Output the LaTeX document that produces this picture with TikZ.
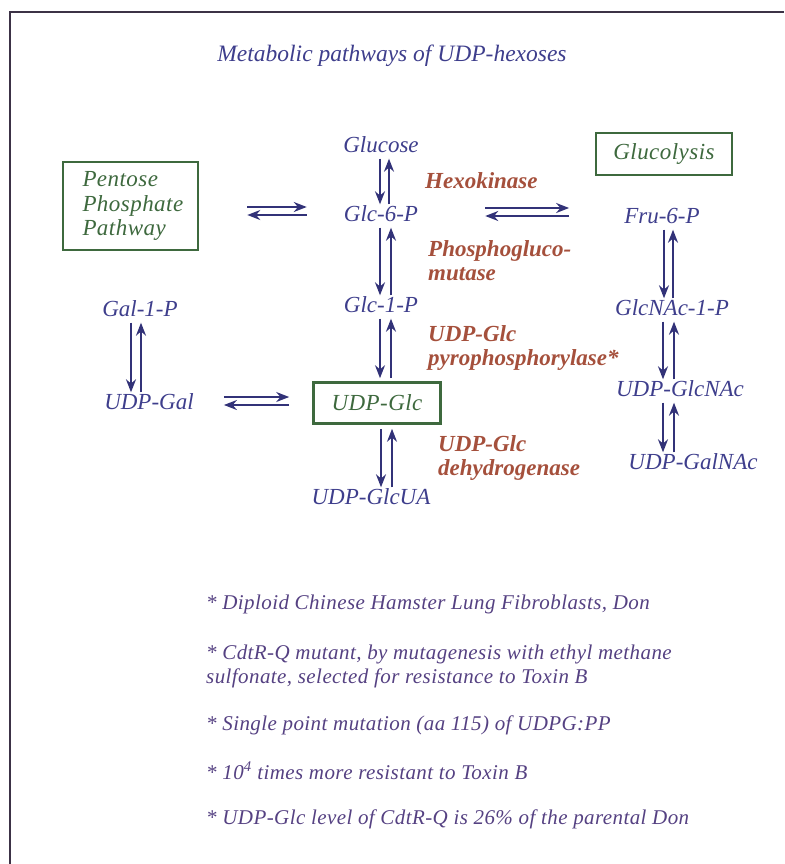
\documentclass[tikz,border=0pt]{standalone}
\usepackage{fontspec}
\setmainfont{Liberation Serif}
\newfontfamily\notefont{Liberation Serif}[LetterSpace=2]
\newfontfamily\boxfont{Liberation Serif}[LetterSpace=2]
\usetikzlibrary{arrows.meta, positioning}
\definecolor{MetColor}{RGB}{62, 62, 140}
\definecolor{ArrowColor}{RGB}{50, 50, 120}
\definecolor{EnzColor}{RGB}{165, 80, 60}
\definecolor{BoxColor}{RGB}{62, 105, 62}
\definecolor{NoteColor}{RGB}{85, 65, 130}
\definecolor{FrameColor}{RGB}{60, 50, 70}
\tikzset{
    metab/.style={
        text=MetColor,
        font=\fontsize{23}{26}\selectfont\itshape,
        text height=16pt,
        text depth=5pt,
        inner sep=1pt
    },
    pathbox/.style={
        draw=BoxColor,
        line width=2.6pt,
        text=BoxColor,
        font=\fontsize{23}{24.5}\boxfont\itshape,
        align=left,
        inner sep=0pt
    },
    enzyme/.style={
        text=EnzColor,
        font=\fontsize{23}{24}\selectfont\bfseries\itshape,
        anchor=west,
        align=left,
        inner sep=0pt
    },
    note/.style={
        text=NoteColor,
        font=\fontsize{21}{24}\notefont\itshape,
        anchor=west,
        align=left,
        inner sep=0pt
    },
    rxn/.style={
        draw=ArrowColor,
        line width=2pt,
        -{Stealth[length=13pt, width=10pt]}
    }
}

\begin{document}
\begin{tikzpicture}[x=1pt, y=-1pt]

    \useasboundingbox (0,0) rectangle (784,864);

    % frame of the slide
    \draw[FrameColor, line width=2pt] (10,864) -- (10,12) -- (784,12);

    % ============================================================================
    % TITLE
    % ============================================================================

    \node[metab, font=\fontsize{23.5}{26}\selectfont\itshape] (title) at (392,56) {Metabolic pathways of UDP-hexoses};

    % ============================================================================
    % METABOLITES
    % ============================================================================

    % Pathway boxes
    \node[pathbox, minimum width=135pt, minimum height=88pt, text width=96pt] (ppp) at (130.5,206) {
        Pentose \\ Phosphate \\ Pathway
    };
    \node[pathbox, minimum width=136pt, minimum height=42pt, align=center] (glyco) at (664,154) {Glucolysis};
    \node[pathbox, minimum width=127pt, minimum height=41pt, align=center] (udpglc) at (377,403) {UDP-Glc};

    % Central column
    \node[metab] (glucose) at (381,147) {Glucose};
    \node[metab] (g6p) at (381,216) {Glc-6-P};
    \node[metab] (g1p) at (381,307) {Glc-1-P};
    \node[metab] (udpglcua) at (371,499) {UDP-GlcUA};

    % Left column
    \node[metab] (gal1p) at (140,311) {Gal-1-P};
    \node[metab] (udpgal) at (149,404) {UDP-Gal};

    % Right column
    \node[metab] (fru6p) at (662,218) {Fru-6-P};
    \node[metab] (glcnac1p) at (672,310) {GlcNAc-1-P};
    \node[metab] (udpglcnac) at (680,391) {UDP-GlcNAc};
    \node[metab] (udpgalnac) at (693,464) {UDP-GalNAc};

    % ============================================================================
    % ENZYMES
    % ============================================================================

    \node[enzyme] (hexo) at (425,181) {Hexokinase};
    \node[enzyme] (pgm) at (428,261) {Phosphogluco-\\mutase};
    \node[enzyme] (ugp) at (428,348) {UDP-Glc\\pyrophosphorylase*};
    \node[enzyme] (ugdh) at (438,458) {UDP-Glc\\dehydrogenase};

    % ============================================================================
    % REACTIONS
    % ============================================================================

    % Glucose <-> Glc-6-P
    \draw[rxn] ([xshift=-1pt]glucose.south) -- ([xshift=-1pt]glucose.south |- g6p.north);
    \draw[rxn] ([xshift=8pt]glucose.south |- g6p.north) -- ([xshift=8pt]glucose.south);

    % Glc-6-P <-> Glc-1-P
    \draw[rxn] ([xshift=-1pt]g6p.south) -- ([xshift=-1pt]g6p.south |- g1p.north);
    \draw[rxn] ([xshift=10pt]g6p.south |- g1p.north) -- ([xshift=10pt]g6p.south);

    % Glc-1-P <-> UDP-Glc
    \draw[rxn, shorten >=3pt] ([xshift=-1pt]g1p.south) -- ([xshift=-1pt]g1p.south |- udpglc.north);
    \draw[rxn, shorten <=3pt] ([xshift=10pt]g1p.south |- udpglc.north) -- ([xshift=10pt]g1p.south);

    % UDP-Glc <-> UDP-GlcUA
    \draw[rxn, shorten <=4pt] ([xshift=4pt]udpglc.south) -- ([xshift=4pt]udpglc.south |- udpglcua.north);
    \draw[rxn, shorten >=4pt] ([xshift=15pt]udpglc.south |- udpglcua.north) -- ([xshift=15pt]udpglc.south);

    % Gal-1-P <-> UDP-Gal
    \draw[rxn] ([xshift=-9pt]gal1p.south) -- ([xshift=-9pt]gal1p.south |- udpgal.north);
    \draw[rxn] ([xshift=1pt]gal1p.south |- udpgal.north) -- ([xshift=1pt]gal1p.south);

    % Fru-6-P <-> GlcNAc-1-P <-> UDP-GlcNAc <-> UDP-GalNAc
    \draw[rxn] ([xshift=2pt]fru6p.south) -- ([xshift=2pt]fru6p.south |- glcnac1p.north);
    \draw[rxn] ([xshift=11pt]fru6p.south |- glcnac1p.north) -- ([xshift=11pt]fru6p.south);
    \draw[rxn] ([xshift=-9pt]glcnac1p.south) -- ([xshift=-9pt]glcnac1p.south |- udpglcnac.north);
    \draw[rxn] ([xshift=2pt]glcnac1p.south |- udpglcnac.north) -- ([xshift=2pt]glcnac1p.south);
    \draw[rxn] ([xshift=-17pt]udpglcnac.south) -- ([xshift=-17pt]udpglcnac.south |- udpgalnac.north);
    \draw[rxn] ([xshift=-6pt]udpglcnac.south |- udpgalnac.north) -- ([xshift=-6pt]udpglcnac.south);

    % Pentose Phosphate Pathway <-> Glc-6-P
    \draw[rxn, shorten <=48pt, shorten >=36pt] ([yshift=-1pt]ppp.east) -- ([yshift=-1pt]ppp.east -| g6p.west);
    \draw[rxn, shorten <=36pt, shorten >=48pt] ([yshift=-9pt]ppp.east -| g6p.west) -- ([yshift=-9pt]ppp.east);

    % Glc-6-P <-> Fru-6-P (glycolysis)
    \draw[rxn, shorten <=66pt, shorten >=54pt] ([yshift=8pt]g6p.east) -- ([yshift=8pt]g6p.east -| fru6p.west);
    \draw[rxn, shorten <=54pt, shorten >=66pt] ([yshift=0pt]g6p.east -| fru6p.west) -- ([yshift=0pt]g6p.east);

    % UDP-Gal <-> UDP-Glc
    \draw[rxn, shorten <=29pt, shorten >=23pt] ([yshift=7pt]udpgal.east) -- ([yshift=7pt]udpgal.east -| udpglc.west);
    \draw[rxn, shorten <=23pt, shorten >=29pt] ([yshift=-1pt]udpgal.east -| udpglc.west) -- ([yshift=-1pt]udpgal.east);

    % ============================================================================
    % NOTES
    % ============================================================================

    \node[note] (note1) at (206,604) {* Diploid Chinese Hamster Lung Fibroblasts, Don};
    \node[note] (note2) at (206,666) {* CdtR-Q mutant, by mutagenesis with ethyl methane\\sulfonate, selected for resistance to Toxin B};
    \node[note] (note3) at (206,725) {* Single point mutation (aa 115) of UDPG:PP};
    \node[note] (note4) at (206,771) {* 10\textsuperscript{4} times more resistant to Toxin B};
    \node[note] (note5) at (206,819) {* UDP-Glc level of CdtR-Q is 26\% of the parental Don};

\end{tikzpicture}
\end{document}
